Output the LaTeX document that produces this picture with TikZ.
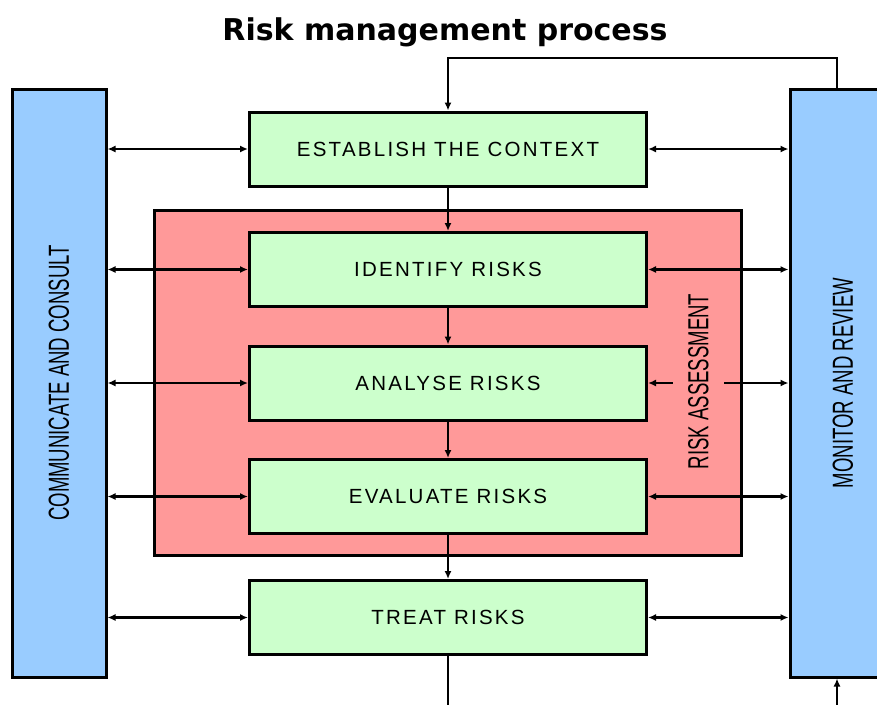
\documentclass[tikz,border=0pt]{standalone}
\usepackage{fontspec}
\setmainfont{Liberation Sans}
\newfontfamily\titlefont{DejaVu Sans}
\newfontfamily\stagefont[LetterSpace=11]{Liberation Sans}
\usetikzlibrary{arrows.meta,positioning}

\definecolor{stagegreen}{HTML}{CCFFCC}
\definecolor{riskred}{HTML}{FF9999}
\definecolor{sideblue}{HTML}{99CCFF}

% narrow upright labels for the tall boxes
\newcommand\sidelabel[1]{\rotatebox{90}{\scalebox{0.64}[1]{#1}}}

\tikzset{
  stage/.style={draw, line width=3pt, fill=stagegreen, minimum width=397pt,
    minimum height=74pt, font=\stagefont\fontsize{20.5}{21}\selectfont},
  side/.style={draw, line width=3pt, fill=sideblue, minimum height=588pt,
    font=\fontsize{29}{30}\selectfont},
  link/.style={line width=2.2pt, {Latex[length=8pt,width=7pt]}-{Latex[length=8pt,width=7pt]}},
  flow/.style={line width=2.2pt, -{Latex[length=8pt,width=7pt]}},
}

\begin{document}
\begin{tikzpicture}[x=1pt,y=-1pt]
\path[use as bounding box, clip] (0,0) rectangle (877,704);

\node[anchor=base] (title) at (445,40) {\titlefont\bfseries\fontsize{30}{32}\selectfont Risk management process};

% communicate and monitor columns
\node[side, minimum width=94pt] (comm) at (59,383) {\sidelabel{COMMUNICATE AND CONSULT}};
\node[side, minimum width=106pt] (mon) at (843,383) {\sidelabel{MONITOR AND REVIEW}};

% risk assessment block
\node[draw, line width=3pt, fill=riskred, minimum width=587pt, minimum height=345pt] (risk) at (447.5,382.5) {};

\node[stage] (est) at (448,149) {ESTABLISH THE CONTEXT};
\node[stage] (idf) at (448,269.5) {IDENTIFY RISKS};
\node[stage] (ana) at (448,383) {ANALYSE RISKS};
\node[stage] (eva) at (448,496.5) {EVALUATE RISKS};
\node[stage] (trt) at (448,617.5) {TREAT RISKS};

\foreach \s in {est,idf,ana,eva,trt} {
    \draw[link] (comm.east |- \s.west) -- (\s.west);
    \draw[link] (\s.east) -- (mon.west |- \s.east);
}

\draw[flow] (est) -- (idf);
\draw[flow] (idf) -- (ana);
\draw[flow] (ana) -- (eva);
\draw[flow] (eva) -- (trt);

% feedback loop round the top and bottom
\coordinate (up) at (837,58);
\coordinate (down) at (837,712);
\draw[flow] (mon.north -| up) -- (up) -| (est.north);
\draw[line width=2.2pt] (trt.south) -- (trt.south |- down);
\draw[flow] (down) -- (mon.south -| down);

\node[fill=riskred, inner xsep=15pt, inner ysep=2pt, font=\fontsize{29}{30}\selectfont] (ra) at (698.5,381.5) {\sidelabel{RISK ASSESSMENT}};
\end{tikzpicture}
\end{document}
